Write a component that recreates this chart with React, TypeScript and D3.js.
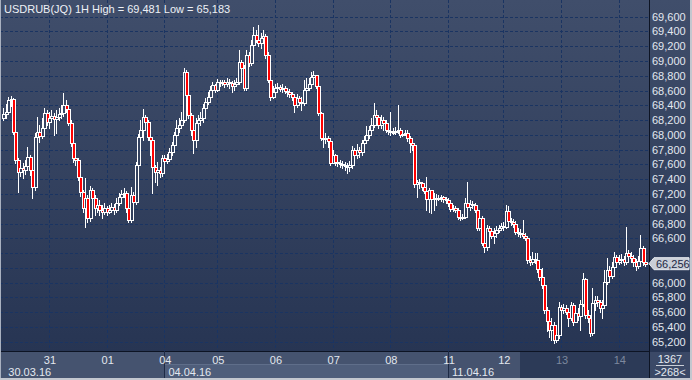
import React from 'react';
import * as d3 from 'd3';

const title = 'USDRUB(JQ) 1H High = 69,481 Low = 65,183';
const firstOpen = 68.23;
const closes = [
68.28,68.31,68.47,68.49,68.04,67.66,67.50,67.55,67.52,67.58,
67.70,67.52,67.29,67.97,68.04,67.99,68.09,68.30,68.17,68.23,
68.26,68.22,68.24,68.28,68.30,68.40,68.35,68.16,67.89,67.69,
67.66,67.43,67.23,67.01,67.15,66.87,67.25,67.15,67.01,67.05,
66.98,66.96,67.01,66.96,66.98,67.02,66.98,67.08,67.16,67.20,
67.21,67.01,66.85,67.19,67.09,67.59,67.97,68.07,68.24,68.17,
67.97,67.93,67.57,67.50,67.52,67.48,67.69,67.65,67.67,67.77,
67.86,68.00,68.09,68.13,68.20,68.85,68.54,68.27,68.07,67.93,
68.16,68.20,68.23,68.36,68.45,68.51,68.61,68.68,68.61,68.72,
68.70,68.72,68.69,68.72,68.70,68.66,68.69,68.72,68.99,68.91,
68.63,69.08,68.97,69.22,69.35,69.28,69.24,69.31,69.34,69.08,
68.74,68.51,68.58,68.63,68.65,68.62,68.63,68.59,68.58,68.55,
68.51,68.40,68.50,68.45,68.43,68.61,68.63,68.69,68.78,68.81,
68.66,68.30,67.96,67.94,67.96,67.92,67.62,67.73,67.63,67.62,
67.61,67.59,67.58,67.57,67.59,67.80,67.73,67.80,67.77,67.89,
67.93,68.00,68.07,68.13,68.27,68.24,68.13,68.20,68.16,68.07,
68.05,68.04,68.04,68.05,68.07,68.00,68.01,68.03,67.96,67.89,
67.86,67.33,67.36,67.35,67.29,67.24,67.13,67.25,67.13,67.15,
67.13,67.15,67.16,67.13,67.12,67.08,67.00,67.01,66.98,66.89,
66.87,66.89,67.08,67.02,67.06,67.05,66.98,66.74,66.87,66.54,
66.48,66.74,66.70,66.63,66.67,66.71,66.74,66.77,66.75,66.97,
66.83,66.82,66.79,66.68,66.67,66.66,66.63,66.60,66.31,66.28,
66.32,66.31,66.18,66.08,65.97,65.63,65.48,65.36,65.43,65.22,
65.29,65.67,65.63,65.66,65.60,65.52,65.70,65.47,65.59,65.55,
65.71,66.05,65.56,65.52,65.32,65.72,65.76,65.74,65.66,65.70,
66.01,66.17,66.09,66.21,66.35,66.28,66.31,66.32,66.28,66.40,
66.36,66.33,66.28,66.22,66.29,66.47,66.28,66.256];
const highs = [
68.36,68.42,68.51,68.53,68.50,68.07,67.69,67.66,67.62,67.66,
67.84,67.73,67.59,68.03,68.24,68.13,68.23,68.36,68.34,68.31,
68.34,68.30,68.34,68.36,68.40,68.57,68.47,68.40,68.20,67.93,
67.73,67.69,67.46,67.25,67.42,67.19,67.31,67.28,67.19,67.15,
67.12,67.05,67.08,67.04,67.05,67.08,67.06,67.15,67.21,67.25,
67.28,67.24,67.05,67.29,67.23,67.63,68.01,68.20,68.35,68.27,
68.20,68.00,67.96,67.59,67.63,67.57,67.73,67.73,67.74,67.82,
67.90,68.04,68.20,68.23,68.31,68.91,68.88,68.57,68.30,68.09,
68.23,68.27,68.31,68.42,68.50,68.58,68.66,68.72,68.69,68.76,
68.74,68.74,68.74,68.77,68.76,68.73,68.74,68.77,69.15,69.01,
68.95,69.15,69.12,69.28,69.46,69.42,69.481,69.38,69.42,69.37,
69.12,68.92,68.66,68.69,68.70,68.68,68.69,68.66,68.63,68.62,
68.58,68.54,68.55,68.53,68.51,68.74,68.77,68.77,68.85,68.86,
68.81,68.68,68.31,68.01,68.03,67.99,67.96,67.80,67.74,67.69,
67.66,67.65,67.63,67.62,67.65,67.85,67.82,67.88,67.84,67.93,
67.99,68.12,68.12,68.23,68.43,68.34,68.27,68.27,68.24,68.20,
68.12,68.31,68.09,68.11,68.40,68.09,68.07,68.07,68.07,67.99,
67.93,67.89,67.39,67.40,67.36,67.31,67.43,67.28,67.25,67.21,
67.20,67.19,67.19,67.17,67.16,67.15,67.09,67.05,67.04,67.01,
66.93,66.93,67.15,67.36,67.12,67.10,67.08,67.01,66.93,66.90,
66.58,66.78,66.77,66.73,66.74,66.77,66.78,66.81,66.82,67.05,
67.04,66.87,66.86,66.83,66.74,66.73,66.85,66.67,66.63,66.36,
66.41,66.40,66.40,66.22,66.20,65.99,65.67,65.56,65.52,65.47,
65.39,65.74,65.70,65.71,65.70,65.63,65.74,65.72,65.70,65.66,
65.76,66.13,66.06,65.63,65.56,65.93,65.82,65.82,65.76,65.76,
66.17,66.33,66.22,66.28,66.41,66.37,66.37,66.39,66.36,66.75,
66.44,66.41,66.37,66.32,66.36,66.64,66.50,66.33];
const lows = [
68.20,68.23,68.28,68.39,68.01,67.62,67.23,67.44,67.42,67.47,
67.52,67.46,67.15,67.25,67.93,67.90,67.96,68.07,68.13,68.09,
68.17,68.00,68.03,68.20,68.23,68.26,68.31,68.13,67.85,67.63,
67.59,67.39,67.17,66.96,66.75,66.82,66.83,67.09,66.92,66.96,
66.92,66.87,66.93,66.92,66.94,66.96,66.93,66.96,67.05,67.12,
67.16,66.96,66.82,66.82,67.04,67.06,67.55,67.86,67.93,68.15,
67.93,67.73,67.21,67.36,67.32,67.43,67.44,67.61,67.62,67.65,
67.73,67.82,67.97,68.04,68.09,68.17,68.50,68.23,68.00,67.76,
67.84,68.09,68.13,68.17,68.34,68.42,68.47,68.58,68.58,68.59,
68.66,68.68,68.65,68.66,68.63,68.58,68.61,68.66,68.69,68.85,
68.61,68.61,68.93,68.95,69.18,69.26,69.20,69.18,69.26,69.04,
68.72,68.47,68.50,68.51,68.58,68.59,68.58,68.57,68.53,68.51,
68.47,68.31,68.38,68.42,68.34,68.40,68.55,68.61,68.63,68.72,
68.63,68.27,67.93,67.84,67.89,67.84,67.59,67.62,67.59,67.58,
67.57,67.55,67.52,67.48,67.51,67.55,67.66,67.69,67.70,67.73,
67.82,67.89,67.96,68.03,68.11,68.17,68.09,68.09,68.07,68.04,
68.01,68.00,68.01,68.01,68.03,67.97,67.99,68.00,67.92,67.77,
67.80,67.29,67.16,67.28,67.25,67.21,66.98,66.96,66.94,66.98,
67.05,67.12,67.10,67.09,67.08,67.04,66.97,66.97,66.96,66.86,
66.85,66.86,66.87,66.96,66.98,67.01,66.96,66.71,66.71,66.51,
66.41,66.44,66.66,66.60,66.54,66.62,66.68,66.71,66.71,66.74,
66.79,66.78,66.75,66.66,66.63,66.62,66.60,66.58,66.27,66.24,
66.25,66.27,66.14,66.04,65.93,65.59,65.34,65.26,65.22,65.183,
65.20,65.25,65.56,65.59,65.58,65.41,65.49,65.43,65.52,65.49,
65.36,65.68,65.52,65.47,65.28,65.29,65.63,65.68,65.60,65.52,
65.66,65.98,66.04,66.06,66.17,66.24,66.25,66.27,66.24,66.25,
66.31,66.28,66.22,66.17,66.20,66.24,66.24,66.22];

const dayLabels = ['31', '01', '04', '05', '06', '07', '08', '11', '12', '13', '14'];
const dayStarts = [19, 43, 67, 89, 113, 137, 161, 185, 208, 232, 256];
const weekLabels = ['30.03.16', '04.04.16', '11.04.16'];
const weekStarts = [0, 67, 185];
const yTicks = d3.range(65.2, 69.61, 0.2);
const lastPrice = 66.256;
const barsInfo = '1367';
const visibleInfo = '>268<';

const W = 692, H = 380;
const plotRight = 649, plotBottom = 351;
const font = '"Liberation Sans", Arial, sans-serif';
const fmt = (v: number) => v.toFixed(3).replace('.', ',');

export default function App() {
  const x = d3.scaleLinear().domain([0, closes.length - 1]).range([3.3, 645.2]);
  const y = d3.scaleLinear().domain([65.2, 69.6]).range([341.7, 16.7]);
  const bars = closes.map((c, i) => {
    const o = i === 0 ? firstOpen : closes[i - 1];
    const h = Math.max(highs[i], o, c);
    const l = Math.min(lows[i], o, c);
    return { o, h, l, c, i };
  });
  const gridX = dayStarts.map((d) => Math.round(x(d)) + 0.5);
  const ly = y(lastPrice);
  return (
    <svg width={W} height={H} style={{ position: 'fixed', left: 0, top: 0, display: 'block' }} fontFamily={font}>
      <defs>
        <linearGradient id="bg" gradientUnits="userSpaceOnUse" x1="0" y1="0" x2="0" y2={plotBottom}>
          <stop offset="0" stopColor="#404e6b" />
          <stop offset="1" stopColor="#273553" />
        </linearGradient>
      </defs>
      <rect x={0} y={0} width={W} height={H} fill="url(#bg)" />
      {yTicks.map((t, k) => (
        <line key={'h' + k} x1={0} x2={plotRight} y1={Math.round(y(t)) + 0.5} y2={Math.round(y(t)) + 0.5}
          stroke="#1a3462" strokeDasharray="3,2" />
      ))}
      {gridX.map((gx, k) => (
        <line key={'v' + k} x1={gx} x2={gx} y1={0} y2={plotBottom} stroke="#1a3462" strokeDasharray="3,2" />
      ))}
      {bars.map((b) => {
        const px = Math.round(x(b.i));
        const top = Math.round(y(Math.max(b.o, b.c)));
        const bot = Math.round(y(Math.min(b.o, b.c)));
        const down = b.c < b.o;
        return (
          <g key={b.i}>
            <line x1={px + 0.5} x2={px + 0.5} y1={Math.round(y(b.h))} y2={Math.round(y(b.l)) + 1} stroke="#ffffff" />
            <rect x={px - 0.5} y={top + 0.5} width={3} height={Math.max(bot - top, 1)}
              fill={down ? '#ff0000' : 'url(#bg)'} stroke="#ffffff" />
          </g>
        );
      })}
      <text x={4} y={13} fill="#eef1f6" fontSize={11}>{title}</text>
      <rect x={plotRight} y={0} width={W - plotRight} height={plotBottom} fill="url(#bg)" />
      <line x1={plotRight + 0.5} x2={plotRight + 0.5} y1={0} y2={H} stroke="#0d1424" />
      {yTicks.filter((t) => Math.abs(y(t) - ly) > 11).map((t, k) => (
        <text key={'yl' + k} x={652} y={y(t) + 4} fill="#e3e8f0" fontSize={11}>{fmt(t)}</text>
      ))}
      <path d={`M${plotRight},${ly} L${plotRight + 5},${ly - 6} L${W - 3},${ly - 6} L${W - 3},${ly + 6} L${plotRight + 5},${ly + 6} Z`}
        fill="#c9ced7" stroke="#e8ebf0" />
      <text x={656} y={ly + 4} fill="#1c2845" fontSize={11}>{fmt(lastPrice)}</text>
      <rect x={0} y={plotBottom} width={plotRight} height={H - plotBottom} fill="#45536f" />
      <rect x={x(weekStarts[1])} y={364} width={x(weekStarts[2]) - x(weekStarts[1])} height={H - 364} fill="#4f5e7b" />
      <line x1={x(weekStarts[1])} x2={x(weekStarts[2])} y1={364.5} y2={364.5} stroke="#5f6e8a" />
      <rect x={520} y={plotBottom + 1} width={plotRight - 520} height={H - plotBottom - 1} fill="#2c3a57" />
      <line x1={0} x2={plotRight} y1={plotBottom + 0.5} y2={plotBottom + 0.5} stroke="#0d1424" />
      {weekStarts.slice(1).map((w, k) => (
        <line key={'ws' + k} x1={Math.round(x(w)) + 0.5} x2={Math.round(x(w)) + 0.5} y1={plotBottom} y2={H} stroke="#1d2a45" />
      ))}
      {dayLabels.map((d, k) => (
        <text key={'dl' + k} x={x(dayStarts[k]) + 1} y={364} textAnchor="middle" fontSize={11}
          fill={x(dayStarts[k]) > 520 ? '#7d889e' : '#e3e8f0'}>{d}</text>
      ))}
      {weekLabels.map((w, k) => (
        <text key={'wl' + k} x={x(weekStarts[k]) + (k === 0 ? 5 : 4)} y={376} fontSize={11} fill="#e3e8f0">{w}</text>
      ))}
      <rect x={plotRight + 1} y={plotBottom + 1} width={W - plotRight - 1} height={H - plotBottom - 1} fill="#3b4967" />
      <text x={670} y={363} textAnchor="middle" fontSize={11} fill="#e3e8f0">{barsInfo}</text>
      <line x1={656} x2={684} y1={365.5} y2={365.5} stroke="#c9ced7" />
      <text x={670} y={376} textAnchor="middle" fontSize={11} fill="#e3e8f0">{visibleInfo}</text>
      <line x1={0.5} x2={0.5} y1={0} y2={H} stroke="#a9b1c0" />
      <rect x={0} y={H - 2} width={W} height={2} fill="#c3c7cf" />
      <rect x={W - 2} y={0} width={2} height={H} fill="#c3c7cf" />
    </svg>
  );
}
